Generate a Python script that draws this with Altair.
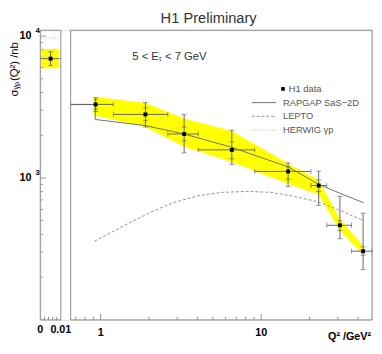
import altair as alt
import pandas as pd

# ---------------- data ----------------
# DIS region, Q^2 in GeV^2, sigma in nb
q2 = [0.93, 1.90, 3.31, 6.56, 14.7, 22.8, 30.9, 43.1]
sigma = [3300, 2805, 2042, 1578, 1112, 885, 464, 305]
q2_lo = [0.65, 1.2, 2.62, 4.05, 9.1, 20.4, 25.6, 36.5]
q2_hi = [1.2, 2.62, 4.05, 9.1, 20.4, 25.6, 36.5, 49]
tot_lo = [2940, 2284, 1503, 1249, 871, 641, 373, 226]
tot_hi = [3680, 3396, 2794, 2166, 1275, 1117, 743, 565]
stat_lo = [3060, 2550, 1828, 1367, 980, 804, 426, 286]
stat_hi = [3560, 3120, 2284, 1800, 1196, 969, 500, 327]

band_q2 = [0.91, 1.90, 3.31, 6.56, 14.7, 22.8, 30.9, 43.1]
band_lo = [2763, 2290, 1663, 1296, 909, 763, 426, 286]
band_hi = [3735, 3380, 2625, 2142, 1263, 969, 513, 333]

rapgap_q2 = [0.65, 0.925, 0.925, 1.90, 3.31, 6.56, 14.7, 22.8, 30.6, 43.5]
rapgap_sig = [3290, 3290, 2583, 2340, 2042, 1644, 1197, 902, 784, 669]

lepto_q2 = [0.915, 1.395, 2.03, 2.81, 4.09, 5.68, 8.25, 11.5, 15.9, 22.5, 30.6, 43.5]
lepto_sig = [358, 461, 571, 669, 752, 792, 804, 792, 743, 680, 595, 500]

# photoproduction panel (Q^2 ~ 0)
pp_x = [0.005]
pp_xlo = [0.0]
pp_xhi = [0.01]
pp_sig = [6930]
pp_lo = [6210]
pp_hi = [7760]
pp_band_x = [0.0005]
pp_band_x2 = [0.009]
pp_band_lo = [5940]
pp_band_hi = [8130]
herwig_pp = [9690]

# axis ticks / labels
left_xticks = [0.002, 0.004, 0.006, 0.008]
left_xlabel_vals = [0, 0.01]
left_xlabel_text = ["0", "0.01"]
right_xmajor = [1, 10]
right_xlabel_text = ["1", "10"]
right_xminor = [0.7, 0.8, 0.9, 2, 3, 4, 5, 6, 7, 8, 9, 20, 30, 40]
y_major = [1000, 10000]
y_label_base = ["10", "10"]
y_label_exp = ["3", "4"]
y_minor = [200, 300, 400, 500, 600, 700, 800, 900,
           2000, 3000, 4000, 5000, 6000, 7000, 8000, 9000]

legend_labels = ["H1 data", "RAPGAP SaS\u22122D", "LEPTO", "HERWIG \u03b3p"]
title_text = "H1 Preliminary"
ytitle_text = "\u03c3\u1d67\u209a(Q\u00b2) /nb"
xtitle_text = "Q\u00b2 /GeV\u00b2"
cut_text = "5 < E\u209c < 7 GeV"

# ---------------- layout constants ----------------
W, H = 339, 296
FRAME = "#8c8c8c"
ERR = "#666666"
YEL = "#ffff00"
FONT = "Liberation Sans"

xl = alt.Scale(type="linear", domain=[0, 0.01], range=[0, 21], nice=False, zero=False)
xr = alt.Scale(type="log", domain=[0.65, 49], range=[31, W], nice=False)
ys = alt.Scale(type="log", domain=[100, 11000], nice=False)

pts = pd.DataFrame(dict(q2=q2, s=sigma, xlo=q2_lo, xhi=q2_hi,
                        tlo=tot_lo, thi=tot_hi, slo=stat_lo, shi=stat_hi))
band = pd.DataFrame(dict(q2=band_q2, lo=band_lo, hi=band_hi))
rap = pd.DataFrame(dict(q2=rapgap_q2, s=rapgap_sig, i=list(range(len(rapgap_q2)))))
lep = pd.DataFrame(dict(q2=lepto_q2, s=lepto_sig))
pp = pd.DataFrame(dict(x=pp_x, xlo=pp_xlo, xhi=pp_xhi, s=pp_sig, lo=pp_lo, hi=pp_hi))
ppb = pd.DataFrame(dict(x=pp_band_x, x2=pp_band_x2, lo=pp_band_lo, hi=pp_band_hi))
herw = pd.DataFrame(dict(x=[0.0], x2=[0.01], s=herwig_pp))


def Y(f):
    return alt.Y(f, type="quantitative", scale=ys, axis=None)


def XL(f):
    return alt.X(f, type="quantitative", scale=xl, axis=None)


def XR(f):
    return alt.X(f, type="quantitative", scale=xr, axis=None)


# ---------------- left panel ----------------
lframe = alt.Chart(pd.DataFrame(dict(x=[0.0], x2=[0.01], y=[100], y2=[11000]))).mark_rect(
    fillOpacity=0, stroke=FRAME, strokeWidth=1).encode(x=XL("x"), x2="x2", y=Y("y"), y2="y2")
lband = alt.Chart(ppb).mark_rect(color=YEL).encode(x=XL("x"), x2="x2", y=Y("lo"), y2="hi")
lherw = alt.Chart(herw).mark_rule(color="#aaaaaa", strokeDash=[1, 2]).encode(
    x=XL("x"), x2="x2", y=Y("s"))
lherr = alt.Chart(pp).mark_rule(color=ERR).encode(x=XL("xlo"), x2="xhi", y=Y("s"))
lverr = alt.Chart(pp).mark_rule(color=ERR).encode(x=XL("x"), y=Y("lo"), y2="hi")
lcap1 = alt.Chart(pp).mark_tick(orient="horizontal", size=5, thickness=1, color=ERR).encode(
    x=XL("x"), y=Y("lo"))
lcap2 = alt.Chart(pp).mark_tick(orient="horizontal", size=5, thickness=1, color=ERR).encode(
    x=XL("x"), y=Y("hi"))
lpt = alt.Chart(pp).mark_point(shape="square", filled=True, size=16, color="black", opacity=1).encode(
    x=XL("x"), y=Y("s"))
lxt = alt.Chart(pd.DataFrame(dict(t=left_xticks))).mark_rule(color=FRAME).encode(
    x=XL("t"), y=alt.value(H), y2=alt.value(H - 3))
lxlab = alt.Chart(pd.DataFrame(dict(t=left_xlabel_vals, s=left_xlabel_text))).mark_text(
    font=FONT, fontWeight="bold", fontSize=11, color="black", baseline="middle", align="center").encode(
    x=XL("t"), y=alt.value(H + 10), text="s:N")
yminor = alt.Chart(pd.DataFrame(dict(t=y_minor))).mark_rule(color="#a0a0a0").encode(
    y=Y("t"), x=alt.value(0), x2=alt.value(3))
ymajor = alt.Chart(pd.DataFrame(dict(t=y_major))).mark_rule(color="#bbbbbb", strokeWidth=1.5).encode(
    y=Y("t"), x=alt.value(0), x2=alt.value(6))
ylab = alt.Chart(pd.DataFrame(dict(t=y_major, s=y_label_base))).mark_text(
    font=FONT, fontWeight="bold", fontSize=11, color="black", baseline="middle", align="right").encode(
    y=Y("t"), x=alt.value(-9), text="s:N")
yexp = alt.Chart(pd.DataFrame(dict(t=y_major, s=y_label_exp))).mark_text(
    font=FONT, fontWeight="bold", fontSize=8, color="black", baseline="middle", align="left", dy=-5).encode(
    y=Y("t"), x=alt.value(-5), text="s:N")

left = alt.layer(lband, lherw, lherr, lverr, lcap1, lcap2, lpt, lxt, yminor, ymajor,
                 lframe, lxlab, ylab, yexp)

# ---------------- right panel ----------------
rframe = alt.Chart(pd.DataFrame(dict(x=[0.65], x2=[49], y=[100], y2=[11000]))).mark_rect(
    fillOpacity=0, stroke=FRAME, strokeWidth=1).encode(x=XR("x"), x2="x2", y=Y("y"), y2="y2")
rband = alt.Chart(band).mark_area(color=YEL, opacity=1).encode(x=XR("q2"), y=Y("hi"), y2="lo")
rrap = alt.Chart(rap).mark_line(color="#707070", strokeWidth=1).encode(
    x=XR("q2"), y=Y("s"), order="i:Q")
rlep = alt.Chart(lep).mark_line(color="#909090", strokeWidth=1, strokeDash=[3, 2]).encode(
    x=XR("q2"), y=Y("s"))
rherr = alt.Chart(pts).mark_rule(color=ERR).encode(x=XR("xlo"), x2="xhi", y=Y("s"))
rverr = alt.Chart(pts).mark_rule(color=ERR).encode(x=XR("q2"), y=Y("tlo"), y2="thi")
caps = []
for f in ["tlo", "thi", "slo", "shi"]:
    caps.append(alt.Chart(pts).mark_tick(orient="horizontal", size=5, thickness=1, color=ERR).encode(
        x=XR("q2"), y=Y(f)))
for f in ["xlo", "xhi"]:
    caps.append(alt.Chart(pts).mark_tick(orient="vertical", size=5, thickness=1, color=ERR).encode(
        x=XR(f), y=Y("s")))
rpt = alt.Chart(pts).mark_point(shape="square", filled=True, size=16, color="black", opacity=1).encode(
    x=XR("q2"), y=Y("s"))
rminor = alt.Chart(pd.DataFrame(dict(t=right_xminor))).mark_rule(color=FRAME).encode(
    x=XR("t"), y=alt.value(H), y2=alt.value(H - 3))
rmajor = alt.Chart(pd.DataFrame(dict(t=right_xmajor))).mark_rule(color=FRAME).encode(
    x=XR("t"), y=alt.value(H), y2=alt.value(H - 6))
rxlab = alt.Chart(pd.DataFrame(dict(t=right_xmajor, s=right_xlabel_text))).mark_text(
    font=FONT, fontWeight="bold", fontSize=11, color="black", baseline="middle", align="center").encode(
    x=XR("t"), y=alt.value(H + 13), text="s:N")

one = pd.DataFrame(dict(a=[0]))


def txt(text, x, y, **kw):
    return alt.Chart(pd.DataFrame(dict(t=[text]))).mark_text(**kw).encode(
        text="t:N", x=alt.value(x), y=alt.value(y))


title = txt(title_text, 172, -7.5, fontSize=15, color="#333333", font=FONT,
            align="center", baseline="alphabetic")
ytitle = txt(ytitle_text, -25.5, 40, fontSize=11.5, color="black", font=FONT,
             angle=270, align="center", baseline="middle")
xtitle = txt(xtitle_text, W - 1, 319, fontSize=11, fontWeight="bold", color="black",
             font=FONT, align="right", baseline="bottom")
cut = txt(cut_text, 94, 27, fontSize=11.5, color="#333333", font=FONT,
          align="left", baseline="middle")

leg_y = [60, 74, 88, 102]
leg = [alt.Chart(one).mark_point(shape="square", filled=True, size=14, color="black", opacity=1).encode(
    x=alt.value(248), y=alt.value(leg_y[0]))]
leg.append(txt(legend_labels[0], 254, leg_y[0], fontSize=9.5, color="#555555",
               font=FONT, align="left", baseline="middle"))
dashes = [None, [3, 2], [1, 2]]
cols = ["#707070", "#909090", "#aaaaaa"]
for k in range(3):
    kw = dict(color=cols[k], strokeWidth=1)
    if dashes[k]:
        kw["strokeDash"] = dashes[k]
    leg.append(alt.Chart(one).mark_rule(**kw).encode(
        x=alt.value(216), x2=alt.value(241), y=alt.value(leg_y[k + 1])))
    leg.append(txt(legend_labels[k + 1], 248, leg_y[k + 1], fontSize=9.5, color="#555555",
                   font=FONT, align="left", baseline="middle"))

right = alt.layer(rband, rrap, rlep, rherr, rverr, *caps, rpt, rminor, rmajor, rframe, rxlab,
                  title, ytitle, xtitle, cut, *leg)

chart = alt.layer(left, right).resolve_scale(x="independent").properties(
    width=W, height=H,
    autosize=alt.AutoSizeParams(type="none"),
    padding={"left": 33, "top": 19, "right": 2, "bottom": 23},
).configure_view(strokeWidth=0).configure(font=FONT)

chart.save("out.html", embed_options={"renderer": "svg", "actions": False})
